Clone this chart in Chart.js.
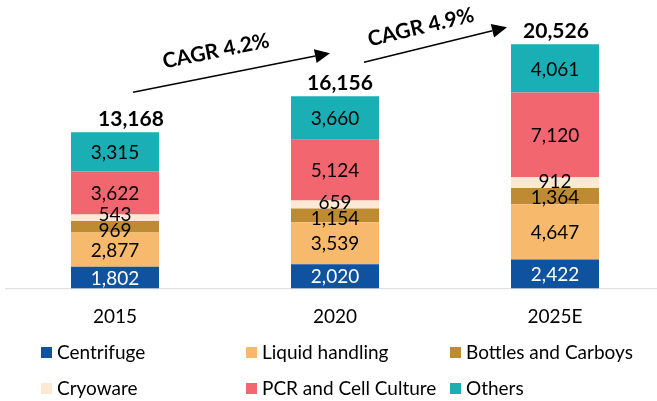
<!DOCTYPE html>
<html><head><meta charset="utf-8">
<script src="https://cdn.jsdelivr.net/npm/chart.js@4/dist/chart.umd.min.js"></script>
<style>
html,body{margin:0;padding:0;background:#fff;}
#wrap{position:relative;width:657px;height:401px;overflow:hidden;}
#c{position:absolute;left:0;top:0;}
#legend{position:absolute;left:0;top:0;width:657px;height:401px;pointer-events:none;font-family:Lato, sans-serif;font-size:19px;color:#000;}
.li{position:absolute;display:flex;align-items:center;white-space:nowrap;height:22px;line-height:22px;}
.sw{width:11px;height:11px;margin-right:5px;flex:none;}
</style></head><body>
<div id="wrap"><canvas id="c" width="657" height="401"></canvas><div id="legend"></div></div>
<script>
// ---- data ----
const categories = ['2015', '2020', '2025E'];
const seriesNames = ['Centrifuge', 'Liquid handling', 'Bottles and Carboys', 'Cryoware', 'PCR and Cell Culture', 'Others'];
const centrifuge = [1802, 2020, 2422];
const liquidHandling = [2877, 3539, 4647];
const bottlesCarboys = [969, 1154, 1364];
const cryoware = [543, 659, 912];
const pcrCellCulture = [3622, 5124, 7120];
const others = [3315, 3660, 4061];
const totals = [13168, 16156, 20526];
const cagrLabels = ['CAGR 4.2%', 'CAGR 4.9%'];

// ---- styles ----
const seriesValues = [centrifuge, liquidHandling, bottlesCarboys, cryoware, pcrCellCulture, others];
const seriesColors = ['#0F52A0', '#F7B96B', '#BF8B32', '#FDE8D3', '#F2666F', '#1AAFB4'];
const labelColors = ['#FFFFFF', '#000000', '#000000', '#000000', '#000000', '#000000'];
const FONT = 'Lato, "Open Sans", sans-serif';

const fmt = v => v.toLocaleString('en-US');

const labelPlugin = {
  id: 'labels',
  beforeDatasetsDraw(chart) {
    const ctx = chart.ctx, xs = chart.scales.x, area = chart.chartArea;
    const step = xs.getPixelForValue(1) - xs.getPixelForValue(0);
    ctx.save();
    ctx.strokeStyle = '#D9D9D9';
    ctx.lineWidth = 1;
    ctx.beginPath();
    ctx.moveTo(xs.getPixelForValue(0) - step / 2, area.bottom + 0.5);
    ctx.lineTo(chart.width, area.bottom + 0.5);
    ctx.stroke();
    ctx.restore();
  },
  afterDatasetsDraw(chart) {
    const ctx = chart.ctx, xs = chart.scales.x, ys = chart.scales.y;
    ctx.save();
    ctx.textAlign = 'center';
    ctx.textBaseline = 'middle';
    const valFont = '19px ' + FONT;
    ctx.font = valFont;
    const minGap = 16;
    categories.forEach((c, i) => {
      const pos = [], xsArr = [];
      chart.data.datasets.forEach((ds, d) => {
        const el = chart.getDatasetMeta(d).data[i];
        pos.push((el.y + el.base) / 2);
        xsArr.push(el.x);
      });
      for (let it = 0; it < 60; it++) {
        for (let k = 0; k < pos.length - 1; k++) {
          const gap = pos[k] - pos[k + 1];
          if (gap < minGap) {
            const s = (minGap - gap) / 2;
            pos[k] += s; pos[k + 1] -= s;
          }
        }
      }
      chart.data.datasets.forEach((ds, d) => {
        ctx.fillStyle = labelColors[d];
        ctx.fillText(fmt(ds.data[i]), xsArr[d], pos[d] + 1);
      });
      // totals
      const topEl = chart.getDatasetMeta(chart.data.datasets.length - 1).data[i];
      ctx.font = 'bold 21px ' + FONT;
      ctx.fillStyle = '#000';
      const offX = chart.options.plugins.labels.totalOffsetX[i];
      ctx.fillText(fmt(totals[i]), topEl.x + offX, topEl.y - 13);
      ctx.font = valFont;
    });

    // CAGR arrows (positioned relative to the bars)
    const cx = i => xs.getPixelForValue(i);
    const topOf = i => ys.getPixelForValue(seriesValues.reduce((s, a) => s + a[i], 0));
    const arrows = [
      {x1: cx(0) + 18, y1: topOf(0) - 40, x2: cx(1) - 5, y2: topOf(1) - 43, tx: cx(0) + 101, ty: topOf(0) - 81, ang: -11.5},
      {x1: cx(1) + 29, y1: topOf(1) - 34, x2: cx(2) - 48, y2: topOf(2) - 17, tx: cx(1) + 86, ty: topOf(1) - 69, ang: -13.5}
    ];
    arrows.forEach((a, k) => {
      const ang = Math.atan2(a.y2 - a.y1, a.x2 - a.x1);
      const hl = 15, hw = 7;
      const bx = a.x2 - hl * Math.cos(ang), by = a.y2 - hl * Math.sin(ang);
      ctx.strokeStyle = '#000';
      ctx.lineWidth = 1.5;
      ctx.beginPath();
      ctx.moveTo(a.x1, a.y1);
      ctx.lineTo(bx, by);
      ctx.stroke();
      ctx.fillStyle = '#000';
      ctx.beginPath();
      ctx.moveTo(a.x2, a.y2);
      ctx.lineTo(bx + hw * Math.sin(ang), by - hw * Math.cos(ang));
      ctx.lineTo(bx - hw * Math.sin(ang), by + hw * Math.cos(ang));
      ctx.closePath();
      ctx.fill();
      ctx.save();
      ctx.translate(a.tx, a.ty);
      ctx.rotate(a.ang * Math.PI / 180);
      ctx.font = 'bold 21px ' + FONT;
      ctx.fillText(cagrLabels[k], 0, 0);
      ctx.restore();
    });
    ctx.restore();
  }
};

const chart = new Chart(document.getElementById('c'), {
  type: 'bar',
  data: {
    labels: categories,
    datasets: seriesNames.map((n, d) => ({
      label: n,
      data: seriesValues[d],
      backgroundColor: seriesColors[d],
      borderWidth: 0
    }))
  },
  options: {
    responsive: false,
    animation: false,
    layout: {padding: {left: 115, right: 102, top: 0, bottom: 56}},
    datasets: {bar: {clip: false, categoryPercentage: 0.8, barPercentage: 0.5}},
    plugins: {
      legend: {display: false},
      tooltip: {enabled: false},
      labels: {totalOffsetX: [16, 5, 1]}
    },
    scales: {
      x: {
        stacked: true, offset: false,
        grid: {display: false, drawTicks: false},
        border: {display: false},
        ticks: {font: {family: FONT, size: 19}, color: '#000', padding: 17, maxRotation: 0, autoSkip: false}
      },
      y: {stacked: true, display: false, min: 0, max: 24250}
    }
  },
  plugins: [labelPlugin]
});

// HTML legend (3 columns x 2 rows)
const legendEl = document.getElementById('legend');
const colX = [41, 246, 450];
const rowY = [341, 377];
seriesNames.forEach((n, d) => {
  const div = document.createElement('div');
  div.className = 'li';
  div.style.left = colX[d % 3] + 'px';
  div.style.top = rowY[Math.floor(d / 3)] + 'px';
  div.innerHTML = '<span class="sw" style="background:' + seriesColors[d] + '"></span><span>' + n + '</span>';
  legendEl.appendChild(div);
});
</script>
</body></html>
